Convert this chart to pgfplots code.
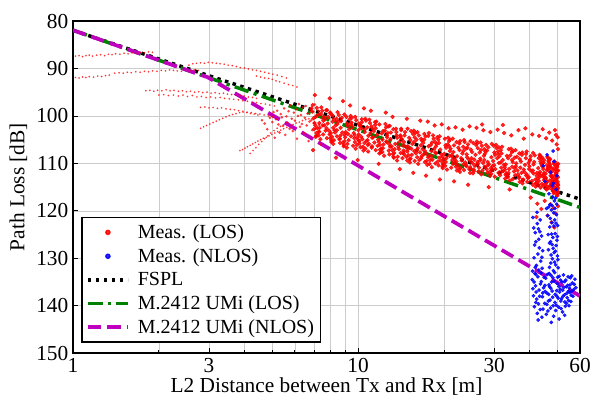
\documentclass[border=0pt]{standalone}
\usepackage{fontspec}
\setmainfont{Liberation Serif}
\usepackage{pgfplots}
\pgfplotsset{compat=1.18}
\definecolor{mred}{HTML}{FF0000}
\definecolor{mblue}{HTML}{0000FF}
\definecolor{mgreen}{HTML}{008000}
\definecolor{mmag}{HTML}{BF00BF}

\begin{document}
\begin{tikzpicture}[font=\fontsize{16}{19}\selectfont]
\begin{semilogxaxis}[
  scale only axis, width=380pt, height=249pt,
  xmin=1, xmax=60, ymin=80, ymax=150, y dir=reverse,
  xtick={1,3,10,30,60}, xticklabels={1,3,10,30,60},
  minor xtick={2,4,5,6,7,8,9,20,40,50},
  ytick={80,90,...,150},
  /pgf/number format/assume math mode=true,
  grid=both,
  major grid style={gray!40, line width=0.5pt},
  minor grid style={gray!40, line width=0.5pt},
  tick align=inside, xtick pos=bottom, ytick pos=left,
  major tick length=4pt, minor tick length=2.5pt,
  tick style={black, line width=0.6pt},
  axis line style={line width=1.3pt},
  xlabel={L2 Distance between Tx and Rx [m]},
  xlabel style={yshift=3pt},
  ylabel={Path Loss [dB]},
  legend style={at={(0.0164,0.032)}, anchor=south west,
    font=\fontsize{15}{16}\selectfont, draw=black, line width=1pt,
    row sep=2pt, inner xsep=3pt, inner ysep=3pt},
  legend cell align=left,
  legend image code/.code={\draw[#1] (0pt,0pt) -- (30pt,0pt); \path (34pt,0pt);},
]
% short-range traces (LOS)
\addplot[mred, only marks, mark=*, mark size=0.45pt, opacity=0.6, forget plot] coordinates {
(1.02,87.4)(1.05,87.3)(1.08,87.5)(1.11,87.3)(1.14,87.2)(1.17,87.4)(1.21,87.2)(1.25,87.1)(1.29,87.3)(1.33,87.0)(1.37,87.1)(1.41,86.9)(1.46,87.0)(1.51,86.8)(1.56,86.9)(1.61,86.7)(1.66,86.8)(1.72,86.6)(1.78,86.7)(1.84,86.5)(1.90,86.6)
(1.02,91.9)(1.05,92.0)(1.08,91.8)(1.11,91.9)(1.14,91.7)(1.18,91.8)(1.22,91.6)(1.26,91.7)(1.30,91.5)(1.34,91.4)
(1.40,91.0)(1.45,90.9)(1.50,91.0)(1.55,90.8)(1.60,90.9)(1.66,90.7)(1.72,90.8)(1.78,90.6)(1.84,90.7)(1.90,90.5)(1.97,90.6)(2.04,90.4)(2.11,90.5)(2.18,90.3)(2.25,90.4)(2.32,90.5)(2.40,90.6)(2.48,90.4)(2.57,90.5)(2.66,90.3)(2.75,90.4)
(2.55,89.3)(2.63,89.0)(2.71,88.9)(2.80,88.8)(2.89,88.9)(2.98,88.7)(3.08,88.8)(3.18,88.9)(3.28,89.0)(3.39,89.1)(3.50,89.3)(3.62,89.4)(3.74,89.6)(3.86,89.8)(3.99,89.9)(4.12,90.1)(4.26,90.3)(4.40,90.4)(4.55,90.6)(4.70,90.8)(4.86,91.0)(5.02,91.2)(5.20,91.4)(5.40,91.7)(5.60,92.0)
(4.40,91.6)(4.55,91.8)(4.70,92.0)(4.85,92.1)(5.00,92.3)(5.15,92.6)(5.30,92.8)(5.50,93.1)(5.70,93.4)(5.90,93.6)(6.10,93.9)
(1.80,94.7)(1.86,94.6)(1.92,94.8)(1.98,94.6)(2.05,94.7)(2.12,94.5)(2.19,94.7)(2.26,94.6)(2.34,94.8)(2.42,94.7)(2.50,94.9)(2.58,94.8)(2.67,95.0)(2.76,94.9)(2.85,95.1)(2.95,95.0)(3.05,95.2)(3.15,95.1)(3.26,95.3)(3.37,95.2)(3.48,95.4)(3.60,95.5)(3.72,95.6)(3.85,95.7)(3.98,95.8)(4.12,96.0)(4.26,96.1)(4.40,96.3)
(2.00,95.6)(2.08,95.5)(2.16,95.7)(2.25,95.6)(2.34,95.8)(2.43,95.6)(2.52,95.9)(2.62,95.7)(2.72,96.0)(2.82,95.9)(2.93,96.1)(3.04,96.0)(3.16,96.2)(3.28,96.1)(3.40,96.3)(3.53,96.4)(3.66,96.5)(3.80,96.6)(3.94,96.8)(4.09,96.9)(4.24,97.1)(4.40,97.2)(4.56,97.4)(4.73,97.5)(4.90,97.7)(5.08,97.9)
(2.80,98.2)(2.90,98.1)(3.00,98.3)(3.10,98.2)(3.21,98.4)(3.32,98.3)(3.44,98.5)(3.56,98.6)(3.68,98.7)(3.81,98.9)(3.94,99.0)(4.08,99.2)(4.22,99.3)(4.37,99.5)(4.52,99.6)(4.68,99.8)(4.84,100.0)(5.01,100.2)
(2.80,102.6)(2.87,102.3)(2.94,102.0)(3.02,101.7)(3.10,101.4)(3.18,101.1)(3.26,100.8)(3.35,100.5)(3.44,100.2)(3.53,99.9)(3.63,99.7)(3.73,99.5)(3.84,99.3)(3.95,99.2)(4.07,99.3)(4.19,99.5)(4.32,99.6)(4.45,99.8)
(3.85,107.3)(3.93,107.1)(4.01,106.8)(4.09,106.5)(4.18,106.2)(4.27,105.9)(4.36,105.6)(4.45,105.3)(4.55,105.0)(4.65,104.7)(4.76,104.5)(4.87,104.2)(4.98,103.9)(5.10,103.6)(5.22,103.3)(5.35,103.0)(5.48,102.7)(5.62,102.4)(5.76,102.1)(5.91,101.8)(6.06,101.5)(6.22,101.3)(6.38,101.0)(6.55,100.8)(6.72,100.6)
(4.18,107.9)(4.28,107.3)(4.38,106.7)(4.48,106.0)(4.59,105.4)(4.70,104.8)(4.82,104.2)(4.94,103.6)(5.07,103.1)(5.20,102.6)(5.34,102.2)(5.48,101.9)
};
% mid range (LOS)
\addplot[mred, only marks, mark=*, mark size=0.8pt, opacity=0.6, forget plot] coordinates {
(4.6,100.9)(4.7,101.6)(4.8,102.8)(4.9,100.4)(5.0,101.3)(5.05,99.2)(5.1,104.6)(5.15,100.7)(5.2,98.9)(5.25,101.8)(5.3,103.5)(5.35,99.6)(5.4,100.3)(5.45,102.1)(5.5,98.4)(5.55,104.0)(5.6,100.1)(5.65,101.4)(5.7,99.0)(5.75,102.7)(5.8,97.8)(5.85,100.6)(5.9,103.2)(5.95,99.3)(6.0,101.0)(6.05,98.6)(6.1,104.8)(6.15,100.0)(6.2,97.5)(6.25,102.3)(6.3,99.8)(6.35,101.7)(6.4,98.2)(6.45,103.6)(6.5,100.4)(6.55,97.9)(6.6,102.0)(6.65,99.5)(6.7,105.3)(6.75,101.2)(6.8,98.7)(6.85,100.9)(6.9,103.0)(6.95,99.1)(7.0,101.5)(7.05,97.6)(7.1,102.6)(7.15,100.2)(7.2,104.1)(7.25,98.9)(7.3,101.9)(7.35,99.7)(7.4,106.0)(7.45,100.5)
};
% Meas. (LOS), second pass
\addplot[mred, only marks, mark=*, mark size=1.4pt, opacity=0.85, forget plot] coordinates {
(7.09,100.2)(7.27,103.4)(7.16,98.3)(7.31,101.5)(7.13,104.2)(7.24,99.7)(7.2,102.6)
(7.54,103.9)(7.73,98.8)(7.61,102.0)(7.77,104.7)(7.57,100.2)(7.69,103.1)(7.65,100.7)
(7.98,99.3)(8.18,102.5)(8.06,105.2)(8.22,100.7)(8.02,103.6)(8.14,101.2)(8.1,104.4)
(8.42,103.0)(8.64,105.7)(8.51,101.2)(8.68,104.1)(8.46,101.7)(8.59,104.9)(8.55,99.8)
(8.91,106.1)(9.14,101.6)(9.0,104.5)(9.19,102.1)(8.96,105.3)(9.1,100.2)(9.05,103.4)
(9.46,101.8)(9.7,104.7)(9.55,102.3)(9.74,105.5)(9.5,100.4)(9.65,103.6)(9.6,106.3)
(10.0,105.0)(10.25,102.6)(10.1,105.8)(10.3,100.7)(10.05,103.9)(10.2,106.6)(10.15,102.1)
(10.54,102.9)(10.81,106.1)(10.65,101.0)(10.86,104.2)(10.6,106.9)(10.76,102.4)(10.7,105.3)
(11.18,106.4)(11.46,101.3)(11.29,104.5)(11.52,107.2)(11.24,102.7)(11.41,105.6)(11.35,103.2)
(11.87,101.8)(12.17,105.0)(11.99,107.7)(12.23,103.2)(11.93,106.1)(12.11,103.7)(12.05,106.9)
(12.56,105.4)(12.88,108.1)(12.69,103.6)(12.94,106.5)(12.62,104.1)(12.81,107.3)(12.75,102.2)
(13.3,108.6)(13.64,104.1)(13.43,107.0)(13.7,104.6)(13.37,107.8)(13.57,102.7)(13.5,105.9)
(14.09,104.4)(14.44,107.3)(14.23,104.9)(14.51,108.1)(14.16,103.0)(14.37,106.2)(14.3,108.9)
(14.87,107.5)(15.25,105.1)(15.02,108.3)(15.33,103.2)(14.95,106.4)(15.18,109.1)(15.1,104.6)
(15.71,105.5)(16.11,108.7)(15.87,103.6)(16.19,106.8)(15.79,109.5)(16.03,105.0)(15.95,107.9)
(16.65,108.9)(17.07,103.8)(16.82,107.0)(17.15,109.7)(16.73,105.2)(16.98,108.1)(16.9,105.7)
(17.63,104.2)(18.08,107.4)(17.81,110.1)(18.17,105.6)(17.72,108.5)(17.99,106.1)(17.9,109.3)
(18.67,107.7)(19.14,110.4)(18.85,105.9)(19.23,108.8)(18.76,106.4)(19.04,109.6)(18.95,104.5)
(19.75,110.7)(20.25,106.2)(19.95,109.1)(20.35,106.7)(19.85,109.9)(20.15,104.8)(20.05,108.0)
(20.88,106.4)(21.41,109.3)(21.09,106.9)(21.52,110.1)(20.99,105.0)(21.31,108.2)(21.2,110.9)
(22.11,109.6)(22.67,107.2)(22.34,110.4)(22.79,105.3)(22.23,108.5)(22.56,111.2)(22.45,106.7)
(23.39,107.4)(23.99,110.6)(23.63,105.5)(24.1,108.7)(23.51,111.4)(23.87,106.9)(23.75,109.8)
(24.72,110.8)(25.35,105.7)(24.97,108.9)(25.48,111.6)(24.85,107.1)(25.23,110.0)(25.1,107.6)
(26.15,105.8)(26.82,109.0)(26.42,111.7)(26.95,107.2)(26.28,110.1)(26.68,107.7)(26.55,110.9)
(27.68,109.3)(28.38,112.0)(27.96,107.5)(28.52,110.4)(27.82,108.0)(28.24,111.2)(28.1,106.1)
(29.3,112.2)(30.05,107.7)(29.6,110.6)(30.2,108.2)(29.45,111.4)(29.9,106.3)(29.75,109.5)
(30.98,108.0)(31.76,110.9)(31.29,108.5)(31.92,111.7)(31.14,106.6)(31.61,109.8)(31.45,112.5)
(32.75,111.3)(33.58,108.9)(33.08,112.1)(33.75,107.0)(32.92,110.2)(33.42,112.9)(33.25,108.4)
(34.67,109.3)(35.55,112.5)(35.02,107.4)(35.73,110.6)(34.85,113.3)(35.38,108.8)(35.2,111.7)
(36.69,112.8)(37.62,107.7)(37.06,110.9)(37.81,113.6)(36.88,109.1)(37.44,112.0)(37.25,109.6)
(38.81,108.0)(39.79,111.2)(39.2,113.9)(39.99,109.4)(39.01,112.3)(39.6,109.9)(39.4,113.1)
(41.03,111.5)(42.07,114.2)(41.44,109.7)(42.27,112.6)(41.23,110.2)(41.86,113.4)(41.65,108.3)
(42.8,114.5)(43.88,110.0)(43.23,112.9)(44.1,110.5)(43.02,113.7)(43.67,108.6)(43.45,111.8)
(44.03,110.2)(45.15,113.1)(44.48,110.7)(45.37,113.9)(44.25,108.8)(44.92,112.0)(44.7,114.7)
(45.21,113.3)(46.36,110.9)(45.67,114.1)(46.59,109.0)(45.44,112.2)(46.13,114.9)(45.9,110.4)
(46.34,111.2)(47.52,114.4)(46.81,109.3)(47.76,112.5)(46.58,115.2)(47.29,110.7)(47.05,113.6)
(47.43,114.8)(48.63,109.7)(47.91,112.9)(48.87,115.6)(47.67,111.1)(48.39,114.0)(48.15,111.6)
(48.6,110.1)(49.5,113.3)(48.85,116.0)(49.7,111.5)(48.7,114.4)(49.3,112.0)(49.1,115.2)
(49.6,113.5)(50.2,116.2)(49.7,111.7)(50.3,114.6)(49.65,112.2)(50.0,115.4)(49.85,110.3)
};
% Meas. (LOS)
\addplot[mred, only marks, mark=*, mark size=1.4pt, opacity=0.85,
  legend image code/.code={\path (0pt,0pt) (34pt,0pt); \fill[mred] (15pt,0pt) circle (1.6pt);}] coordinates {
(6.93,97.7)(7.08,102.0)(6.97,100.5)(7.14,103.6)(6.9,99.1)(7.03,101.5)(7.1,104.4)(6.86,98.4)(7.0,102.8)(7.05,95.6)(6.95,107.2)
(7.33,102.5)(7.48,98.9)(7.37,104.9)(7.55,101.0)(7.3,103.3)(7.43,98.2)(7.51,102.0)(7.27,104.1)(7.4,99.6)
(7.82,101.6)(7.99,104.7)(7.86,100.2)(8.05,105.5)(7.78,98.8)(7.94,103.9)(8.01,99.5)(7.75,102.6)(7.9,103.1)(7.95,96.3)
(8.22,105.1)(8.4,100.6)(8.26,103.0)(8.47,99.2)(8.18,105.9)(8.34,102.0)(8.43,104.3)(8.14,99.9)(8.3,103.5)(8.36,108.8)
(8.71,101.1)(8.9,106.4)(8.76,100.4)(8.97,104.0)(8.68,102.5)(8.84,105.6)(8.94,99.7)(8.63,104.8)(8.8,103.5)(8.85,96.9)
(9.21,103.8)(9.41,100.0)(9.26,105.1)(9.48,101.4)(9.17,105.9)(9.34,100.7)(9.44,104.3)(9.13,106.7)(9.3,102.8)(9.37,97.8)
(9.8,106.9)(10.02,103.0)(9.85,100.9)(10.1,105.3)(9.76,100.2)(9.94,104.5)(10.05,101.6)(9.72,104.0)(9.9,106.1)(9.96,109.3)
(10.3,101.3)(10.52,105.7)(10.35,104.9)(10.6,100.6)(10.25,104.4)(10.44,107.3)(10.55,103.4)(10.2,102.0)(10.4,106.5)(10.48,98.4)
(10.9,105.9)(11.13,102.2)(10.95,100.8)(11.2,104.6)(10.84,107.5)(11.05,103.6)(11.16,106.7)(10.79,105.1)(11.0,101.5)(11.08,98.9)
(11.58,101.2)(11.83,105.5)(11.64,104.0)(11.92,107.1)(11.52,102.6)(11.75,105.0)(11.87,107.9)(11.47,101.9)(11.7,106.3)(11.8,110.1)
(12.27,106.0)(12.54,102.4)(12.33,108.4)(12.63,104.5)(12.21,106.8)(12.46,101.7)(12.58,105.5)(12.16,107.6)(12.4,103.1)(12.5,99.3)
(12.97,104.9)(13.25,108.0)(13.03,103.5)(13.34,108.8)(12.9,102.1)(13.16,107.2)(13.29,102.8)(12.84,105.9)(13.1,106.4)(13.2,100.2)
(13.76,108.6)(14.06,104.1)(13.83,106.5)(14.15,102.7)(13.69,109.4)(13.96,105.5)(14.1,107.8)(13.62,103.4)(13.9,107.0)(14.0,111.2)
(14.55,104.1)(14.87,109.4)(14.62,103.4)(14.97,107.0)(14.48,105.5)(14.77,108.6)(14.91,102.7)(14.41,107.8)(14.7,106.5)(14.82,100.6)
(15.35,106.9)(15.68,103.1)(15.42,108.2)(15.78,104.5)(15.27,109.0)(15.57,103.8)(15.73,107.4)(15.19,109.8)(15.5,105.9)(15.62,112.0)
(16.24,110.1)(16.59,106.2)(16.32,104.1)(16.7,108.5)(16.15,103.4)(16.48,107.7)(16.64,104.8)(16.07,107.2)(16.4,109.3)(16.52,101.0)
(17.23,104.3)(17.6,108.7)(17.31,107.9)(17.72,103.6)(17.14,107.4)(17.48,110.3)(17.66,106.4)(17.05,105.0)(17.4,109.5)(17.55,101.2)(17.3,112.6)
(18.22,109.2)(18.61,105.5)(18.31,104.1)(18.74,107.9)(18.12,110.8)(18.49,106.9)(18.67,110.0)(18.03,108.4)(18.4,104.8)(18.55,102.0)
(19.31,104.3)(19.73,108.6)(19.4,107.1)(19.86,110.2)(19.2,105.7)(19.6,108.1)(19.79,111.0)(19.11,105.0)(19.5,109.4)(19.65,101.8)(19.35,113.4)
(20.4,108.9)(20.84,105.3)(20.5,111.3)(20.98,107.4)(20.29,109.7)(20.7,104.6)(20.91,108.4)(20.19,110.5)(20.6,106.0)(20.75,102.6)
(21.59,107.6)(22.05,110.7)(21.69,106.2)(22.2,111.5)(21.47,104.8)(21.9,109.9)(22.13,105.5)(21.36,108.6)(21.8,109.1)(21.95,102.4)(21.7,113.8)
(22.87,111.0)(23.37,106.5)(22.98,108.9)(23.52,105.1)(22.75,111.8)(23.2,107.9)(23.45,110.2)(22.64,105.8)(23.1,109.4)(23.25,102.9)
(24.16,106.7)(24.69,112.0)(24.28,106.0)(24.84,109.6)(24.03,108.1)(24.52,111.2)(24.77,105.3)(23.91,110.4)(24.4,109.1)(24.6,102.2)(24.3,114.5)
(25.54,109.2)(26.1,105.4)(25.67,110.5)(26.27,106.8)(25.4,111.3)(25.92,106.1)(26.2,109.7)(25.28,112.1)(25.8,108.2)(26.0,102.5)
(27.03,112.3)(27.62,108.4)(27.16,106.3)(27.8,110.7)(26.89,105.6)(27.43,109.9)(27.71,107.0)(26.75,109.4)(27.3,111.5)(27.5,103.0)(27.2,101.8)
(28.61,106.6)(29.24,111.0)(28.75,110.2)(29.43,105.9)(28.47,109.7)(29.04,112.6)(29.33,108.7)(28.32,107.3)(28.9,111.8)(29.1,103.4)(28.7,115.0)
(30.29,111.2)(30.96,107.5)(30.45,106.1)(31.16,109.9)(30.14,112.8)(30.75,108.9)(31.06,112.0)(29.99,110.4)(30.6,106.8)(30.85,102.9)
(31.98,106.5)(32.68,110.8)(32.14,109.3)(32.9,112.4)(31.82,107.9)(32.46,110.3)(32.78,113.2)(31.65,107.2)(32.3,111.6)(32.5,103.6)(32.2,101.9)
(33.86,111.2)(34.6,107.6)(34.03,113.6)(34.84,109.7)(33.69,112.0)(34.37,106.9)(34.7,110.7)(33.52,112.8)(34.2,108.3)(34.45,104.1)(34.0,115.5)
(35.84,110.0)(36.63,113.1)(36.02,108.6)(36.88,113.9)(35.66,107.2)(36.38,112.3)(36.74,107.9)(35.48,111.0)(36.2,111.5)(36.5,103.0)
(37.92,113.4)(38.75,108.9)(38.11,111.3)(39.0,107.5)(37.73,114.2)(38.49,110.3)(38.87,112.6)(37.53,108.2)(38.3,111.8)(38.6,102.6)(38.1,104.8)
(40.1,109.2)(40.97,114.5)(40.3,108.5)(41.2,112.1)(39.9,110.6)(40.7,113.7)(41.1,107.8)(39.69,112.9)(40.5,111.6)(40.8,103.9)(40.3,117.2)
(42.37,112.0)(43.3,108.2)(42.59,113.3)(43.6,109.6)(42.16,114.1)(43.01,108.9)(43.44,112.5)(41.94,114.9)(42.8,111.0)(43.1,104.2)(42.5,118.5)(42.2,121.3)
(43.66,115.1)(44.6,111.2)(43.88,109.1)(44.9,113.5)(43.45,108.4)(44.32,112.7)(44.75,109.8)(43.22,112.2)(44.1,114.3)(44.4,102.8)(43.9,119.6)
(44.85,109.3)(45.8,113.7)(45.07,112.9)(46.1,108.6)(44.62,112.4)(45.53,115.3)(45.9,111.4)(44.4,110.0)(45.3,114.5)(45.6,104.7)(45.1,117.9)
(46.0,113.9)(47.0,110.2)(46.3,108.8)(47.3,112.6)(45.8,115.5)(46.7,111.6)(47.1,114.7)(45.6,113.1)(46.5,109.5)(46.8,103.5)(46.2,121.0)
(47.1,109.1)(48.1,113.4)(47.4,111.9)(48.4,115.0)(46.9,110.5)(47.8,112.9)(48.2,115.8)(46.7,109.8)(47.6,114.2)(47.9,105.2)(47.3,118.6)(47.7,122.4)
(48.2,113.9)(49.1,110.3)(48.5,116.3)(49.3,112.4)(48.0,114.7)(48.9,109.6)(49.2,113.4)(47.9,115.5)(48.7,111.0)(49.0,103.0)(48.5,119.4)(48.8,123.5)
(49.1,112.7)(49.8,115.8)(49.3,111.3)(49.9,116.6)(49.0,109.9)(49.6,115.0)(49.85,110.6)(49.05,113.7)(49.5,114.2)(49.7,106.0)(49.4,104.0)(49.2,120.5)
(50.0,116.0)(50.3,111.5)(50.1,113.9)(50.3,110.1)(49.95,116.8)(50.2,112.9)(50.25,115.2)(49.9,110.8)(50.15,114.4)(50.2,107.0)(50.1,104.5)(50.25,119.0)
};
\addlegendentry{Meas. (LOS)}
% Meas. (NLOS)
\addplot[mblue, only marks, mark=*, mark size=1.2pt, opacity=0.85,
  legend image code/.code={\path (0pt,0pt) (34pt,0pt); \fill[mblue] (15pt,0pt) circle (1.6pt);}] coordinates {
(44.6,110.5)(45.2,113.8)(46.0,108.2)(46.7,116.4)(47.3,111.9)(48.0,114.7)(48.6,109.6)(49.2,117.3)(49.8,112.6)(47.9,118.9)(45.8,119.5)(49.5,115.5)(48.3,107.4)
(46.2,121.0)(47.0,123.4)(47.6,119.8)(48.2,125.6)(48.9,121.9)(49.5,127.3)(50.1,123.1)(46.5,128.2)(47.3,126.5)(48.0,130.1)(48.7,128.8)(49.3,131.4)(50.0,129.5)(46.9,131.9)(47.8,122.5)(48.5,120.4)(49.1,124.8)(49.8,126.2)(46.4,125.0)(47.5,129.3)(48.4,132.6)(49.6,120.8)(50.3,132.0)(47.1,118.7)(48.8,117.9)(46.8,133.2)
(46.6,119.2)(47.2,121.6)(47.7,124.9)(48.3,127.9)(48.9,130.8)(49.4,122.6)(50.0,125.4)(46.9,126.8)(47.4,131.0)(48.1,117.1)(48.6,123.2)(49.2,128.5)(49.7,118.6)(50.2,130.3)(47.9,127.1)(48.4,114.2)(49.0,119.5)
(41.0,121.4)(41.8,124.6)(42.5,122.7)(43.2,127.8)(44.0,125.3)(41.4,129.9)(42.2,131.5)(43.0,126.0)(43.7,130.6)(44.4,128.4)(41.6,127.2)(42.9,123.8)(40.9,132.7)(43.5,121.9)(42.0,133.4)(44.2,132.1)
(41.3,123.6)(42.0,126.5)(42.7,129.1)(43.4,124.4)(44.1,129.8)(41.8,131.9)(43.0,132.5)(42.4,120.3)
(40.8,134.5)(41.2,137.9)(41.5,140.2)(41.9,135.8)(42.3,138.6)(42.7,133.9)(43.1,136.7)(43.5,140.8)(43.9,134.9)(44.3,138.1)(44.7,136.2)(45.1,139.5)(45.5,134.2)(45.9,137.3)(46.3,141.1)(46.7,135.6)(47.1,138.8)(47.5,133.6)(47.9,136.9)(48.3,140.0)(48.7,134.8)(49.1,137.6)(49.5,139.9)(49.9,135.3)(50.3,138.4)(50.7,133.8)(51.1,136.5)(51.5,140.6)(51.9,135.0)(52.3,138.0)(52.7,136.1)(53.1,139.2)(53.5,134.6)(53.9,137.4)(54.3,135.7)(54.7,138.9)(55.1,136.3)(55.5,134.1)(55.9,137.8)(56.4,135.2)(57.0,136.6)(57.6,134.4)
(41.0,136.4)(41.7,133.2)(42.0,139.3)(42.5,141.6)(43.3,138.0)(43.8,133.1)(44.5,140.7)(44.9,134.0)(45.3,137.0)(45.7,141.8)(46.1,133.4)(46.5,139.0)(46.9,136.0)(47.3,140.5)(47.7,135.0)(48.1,138.2)(48.5,142.2)(48.9,133.0)(49.3,141.0)(49.7,136.8)(50.1,134.0)(50.5,140.3)(50.9,137.1)(51.3,134.6)(51.7,138.5)(52.1,141.3)(52.5,133.5)(52.9,137.7)(53.3,140.1)(53.7,136.0)(54.1,138.3)(54.5,133.9)(54.9,140.0)(55.3,137.2)(55.7,139.1)(56.1,133.7)(56.7,138.0)(42.8,143.0)(47.6,143.5)(50.7,142.8)(44.1,142.4)(53.0,142.0)
(41.4,135.0)(42.1,137.1)(42.9,139.6)(43.6,135.4)(44.4,137.3)(45.2,135.7)(45.9,139.7)(46.6,137.6)(47.4,136.3)(48.2,134.1)(49.0,139.3)(49.8,138.0)(50.6,135.9)(51.4,139.0)(52.2,136.7)(53.0,134.9)(53.8,139.5)(54.6,137.0)(55.4,135.6)(56.2,136.9)(57.3,135.5)(58.0,136.2)
};
\addlegendentry{Meas. (NLOS)}
% FSPL
\addplot[black, line width=2.6pt, dash pattern=on 2.6pt off 3.4pt] coordinates {(1,81.98) (60,117.54)};
\addlegendentry{FSPL}
% M.2412 UMi LOS
\addplot[mgreen, line width=2.6pt, dash pattern=on 11pt off 4pt on 2.4pt off 4pt] coordinates {(1,81.94) (60,119.28)};
\addlegendentry{M.2412 UMi (LOS)}
% M.2412 UMi NLOS
\addplot[mmag, line width=2.8pt, dash pattern=on 10pt off 4.5pt] coordinates {(1,81.94) (2.97,91.86) (60,137.94)};
\addlegendentry{M.2412 UMi (NLOS)}
\end{semilogxaxis}
\pgfresetboundingbox
\path ([xshift=-54.75pt,yshift=-36pt]current axis.south west) rectangle ([xshift=9pt,yshift=15.75pt]current axis.north east);
\end{tikzpicture}
\end{document}
